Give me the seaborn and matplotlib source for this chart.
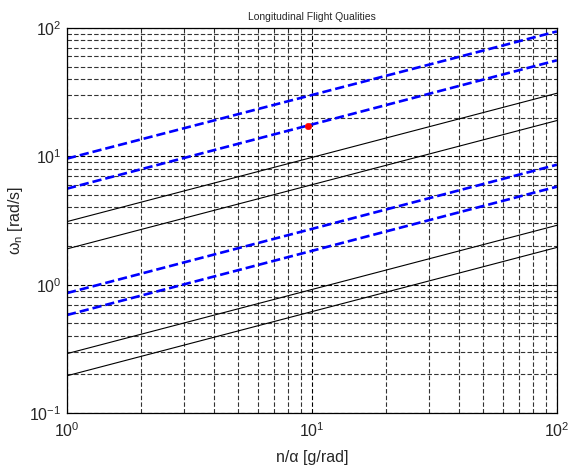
import numpy as np
import pandas as pd
import matplotlib
matplotlib.use("Agg")
import matplotlib.pyplot as plt
import seaborn as sns

# boundary lines, read at n/alpha = 1 and 100
x_ends = [1, 100]
blue_lines = {
    "b1": [9.6, 94],
    "b2": [5.6, 56],
    "b3": [0.86, 8.6],
    "b4": [0.58, 5.8],
}
black_lines = {
    "k1": [3.1, 31],
    "k2": [1.9, 19],
    "k3": [0.29, 2.9],
    "k4": [0.195, 1.95],
}
design_x = [9.6]
design_y = [17.3]

rows = []
for name, ys in {**blue_lines, **black_lines}.items():
    for x, y in zip(x_ends, ys):
        rows.append({"line": name, "x": x, "y": y,
                     "kind": "blue" if name in blue_lines else "black"})
df = pd.DataFrame(rows)

sns.set_style("white")
plt.rcParams["font.family"] = ["Liberation Sans", "DejaVu Sans"]
plt.rcParams["mathtext.fontset"] = "custom"
plt.rcParams["mathtext.rm"] = "Liberation Sans"
plt.rcParams["mathtext.it"] = "Liberation Sans"
plt.rcParams["axes.unicode_minus"] = False

fig = plt.figure(figsize=(5.7, 4.72), dpi=100)
ax = fig.add_axes([0.1175, 0.125, 0.8595, 0.8157])
ax.set_xscale("log")
ax.set_yscale("log")

# grid first so lines sit on top
ax.grid(True, which="major", color="black", linestyle=(0, (4, 2)), linewidth=0.8)
ax.grid(True, which="minor", color="#333333", linestyle=(0, (4, 2)), linewidth=0.8)

for name in black_lines:
    sns.lineplot(data=df[df["line"] == name], x="x", y="y", ax=ax,
                 color="black", linewidth=0.8, estimator=None)
for name in blue_lines:
    sns.lineplot(data=df[df["line"] == name], x="x", y="y", ax=ax,
                 color="#0000ff", linewidth=1.9, linestyle=(0, (3.5, 1.5)),
                 estimator=None)

sns.scatterplot(x=design_x, y=design_y, ax=ax, color="red", s=22,
                edgecolor="red", zorder=5)

ax.set_xlim(1, 100)
ax.set_ylim(0.1, 100)
ax.set_axisbelow(True)

ax.tick_params(which="both", direction="in", top=True, right=True,
               labelsize=11.5, length=4, width=0.6)
ax.tick_params(axis="x", which="both", pad=6)
ax.tick_params(axis="y", which="both", pad=4)
ax.tick_params(which="minor", length=2)
for s in ax.spines.values():
    s.set_color("black")
    s.set_linewidth(0.9)

ax.set_title("Longitudinal Flight Qualities", fontsize=7.5, pad=6)
ax.set_xlabel("n/\u03b1 [g/rad]", fontsize=11.5, labelpad=7)
ax.set_ylabel("$\\omega_n$ [rad/s]", fontsize=11.5, labelpad=3)

fig.savefig("out.png", dpi=100)
